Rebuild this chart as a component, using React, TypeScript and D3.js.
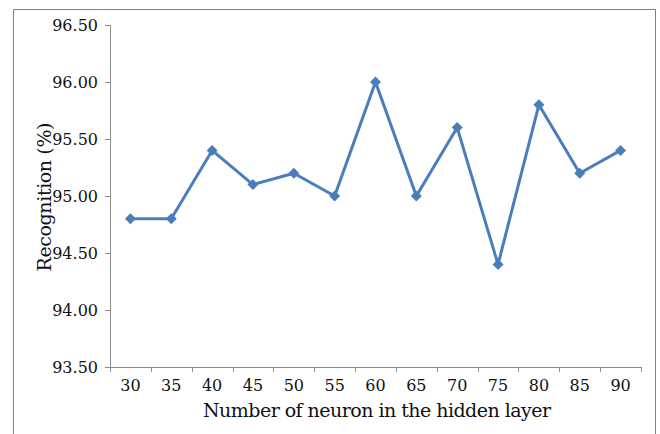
import React from "react";
import * as d3 from "d3";

const categories = ["30", "35", "40", "45", "50", "55", "60", "65", "70", "75", "80", "85", "90"];
const values = [94.8, 94.8, 95.4, 95.1, 95.2, 95.0, 96.0, 95.0, 95.6, 94.4, 95.8, 95.2, 95.4];
const yTicks = [93.5, 94.0, 94.5, 95.0, 95.5, 96.0, 96.5];
const xTitle = "Number of neuron in the hidden layer";
const yTitle = "Recognition (%)";

const W = 660;
const H = 434;
const left = 110;
const right = 641;
const top = 25;
const bottom = 367;
const font = "DejaVu Serif, Liberation Serif, serif";
const blue = "#4a7ebb";
const axisGray = "#8c8c8c";

export default function App() {
  const x = d3.scaleBand<string>().domain(categories).range([left, right]);
  const y = d3.scaleLinear().domain([93.5, 96.5]).range([bottom, top]);
  const line = d3
    .line<number>()
    .x((_, i) => (x(categories[i]) as number) + x.bandwidth() / 2)
    .y((d) => y(d));
  const diamond = (cx: number, cy: number, r: number) =>
    `M${cx},${cy - r}L${cx + r},${cy}L${cx},${cy + r}L${cx - r},${cy}Z`;
  const tickXs = categories.map((c) => x(c) as number).concat([right]);

  return (
    <svg width={W} height={H} style={{ position: "absolute", left: 0, top: 0, display: "block" }}>
      <rect x={0} y={0} width={W} height={H} fill="#fff" />
      <path d={`M13.5,${H + 2}V9.5H655.5V${H + 2}`} fill="none" stroke="#7f7f7f" strokeWidth={1} />
      {/* y axis */}
      <line x1={left + 0.5} x2={left + 0.5} y1={top} y2={bottom} stroke={axisGray} />
      {yTicks.map((t) => (
        <g key={t}>
          <line x1={left - 5} x2={left} y1={Math.round(y(t)) + 0.5} y2={Math.round(y(t)) + 0.5} stroke={axisGray} />
          <text x={left - 12} y={y(t)} dy="0.35em" textAnchor="end" fontFamily={font} fontSize={16} fill="#111">
            {t.toFixed(2)}
          </text>
        </g>
      ))}
      {/* x axis */}
      <line x1={left} x2={right} y1={bottom + 0.5} y2={bottom + 0.5} stroke={axisGray} />
      {tickXs.map((tx, i) => (
        <line key={i} x1={Math.round(tx) + 0.5} x2={Math.round(tx) + 0.5} y1={bottom} y2={bottom + 5} stroke={axisGray} />
      ))}
      {categories.map((c) => (
        <text key={c} x={(x(c) as number) + x.bandwidth() / 2} y={bottom + 24} textAnchor="middle" fontFamily={font} fontSize={16} fill="#111">
          {c}
        </text>
      ))}
      <text x={377} y={417} textAnchor="middle" fontFamily={font} fontSize={19} fill="#111" textLength={348} lengthAdjust="spacing">
        {xTitle}
      </text>
      <text transform={`translate(51,197) rotate(-90)`} textAnchor="middle" fontFamily={font} fontSize={19} fill="#111" textLength={149} lengthAdjust="spacing">
        {yTitle}
      </text>
      <path d={line(values) || ""} fill="none" stroke={blue} strokeWidth={3} strokeLinejoin="round" />
      {values.map((v, i) => (
        <path key={i} d={diamond((x(categories[i]) as number) + x.bandwidth() / 2, y(v), 5.5)} fill={blue} />
      ))}
    </svg>
  );
}
